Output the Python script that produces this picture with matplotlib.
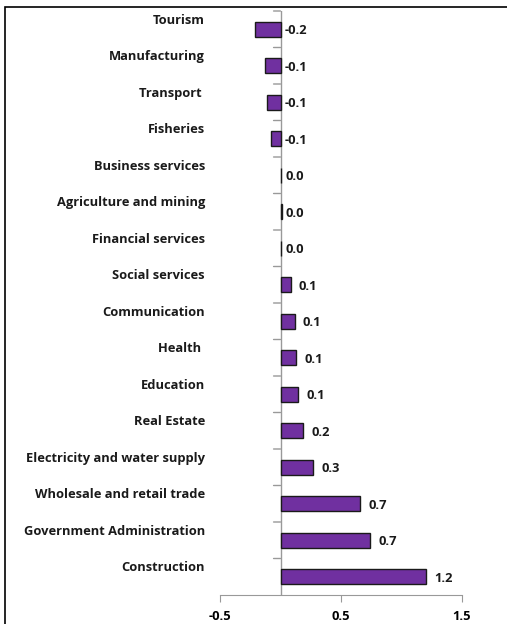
import matplotlib.pyplot as plt
import matplotlib.patches as patches
from matplotlib.transforms import offset_copy

# Данные (сверху вниз, как на графике)
sectors = ['Tourism', 'Manufacturing', 'Transport ', 'Fisheries', 'Business services',
           'Agriculture and mining', 'Financial services', 'Social services',
           'Communication', 'Health ', 'Education', 'Real Estate',
           'Electricity and water supply', 'Wholesale and retail trade',
           'Government Administration', 'Construction']
values = [-0.21, -0.13, -0.11, -0.08, 0.005, 0.01, 0.005, 0.083,
          0.116, 0.132, 0.145, 0.19, 0.27, 0.66, 0.74, 1.2]
xticks = [-0.5, 0.5, 1.5]

plt.rcParams['font.family'] = ['Open Sans', 'DejaVu Sans']
plt.rcParams['font.weight'] = 'bold'
FS = 9.3

fig = plt.figure(figsize=(5.07, 6.24), dpi=100)
ax = fig.add_axes([220 / 507, 1 - 595 / 624, 242 / 507, 584 / 624])

# рамка вокруг рисунка
fig.patches.append(patches.Rectangle((5 / 507, -0.05), 1.2, 1 - 7 / 624 + 0.05,
                                     transform=fig.transFigure, fill=False,
                                     edgecolor='black', linewidth=1.2))

ypos = list(range(len(sectors)))
ax.barh(ypos, values, height=0.41, color='#7030A0', edgecolor='#1a1a1a', linewidth=1.0, zorder=3)
ax.set_ylim(len(sectors) - 0.5, -0.5)
ax.set_xlim(-0.5, 1.5)

# оси
for s in ['top', 'right', 'left']:
    ax.spines[s].set_visible(False)
ax.spines['bottom'].set_color('#999999')
ax.axvline(0, color='#999999', linewidth=1.0, zorder=2)
ax.set_xticks(xticks)
ax.set_xticklabels(['-0.5', '0.5', '1.5'], fontsize=FS, fontweight='bold')
ax.tick_params(axis='x', direction='out', length=5, color='#999999', pad=6)
ax.set_yticks([])

# подписи категорий и значений
lab_tr = offset_copy(ax.get_yaxis_transform(), fig=fig, x=-15, y=9, units='dots')
for y, name, v in zip(ypos, sectors, values):
    ax.text(0, y, name, transform=lab_tr, ha='right', va='center',
            fontsize=FS, fontweight='bold', color='#1a1a1a')
    ax.annotate(f'{v:.1f}', xy=(max(v, 0), y), xytext=(3 if v <= 0.01 else 6, -1),
                textcoords='offset points', ha='left', va='center',
                fontsize=FS, fontweight='bold', color='#1a1a1a')

# засечки на оси Y между категориями
for b in range(len(sectors)):
    ax.annotate('', xy=(0, b - 0.5), xytext=(-5, 0), textcoords='offset points',
                arrowprops=dict(arrowstyle='-', color='#999999', lw=1.0,
                                shrinkA=0, shrinkB=0))

fig.savefig('out.png', dpi=100)
